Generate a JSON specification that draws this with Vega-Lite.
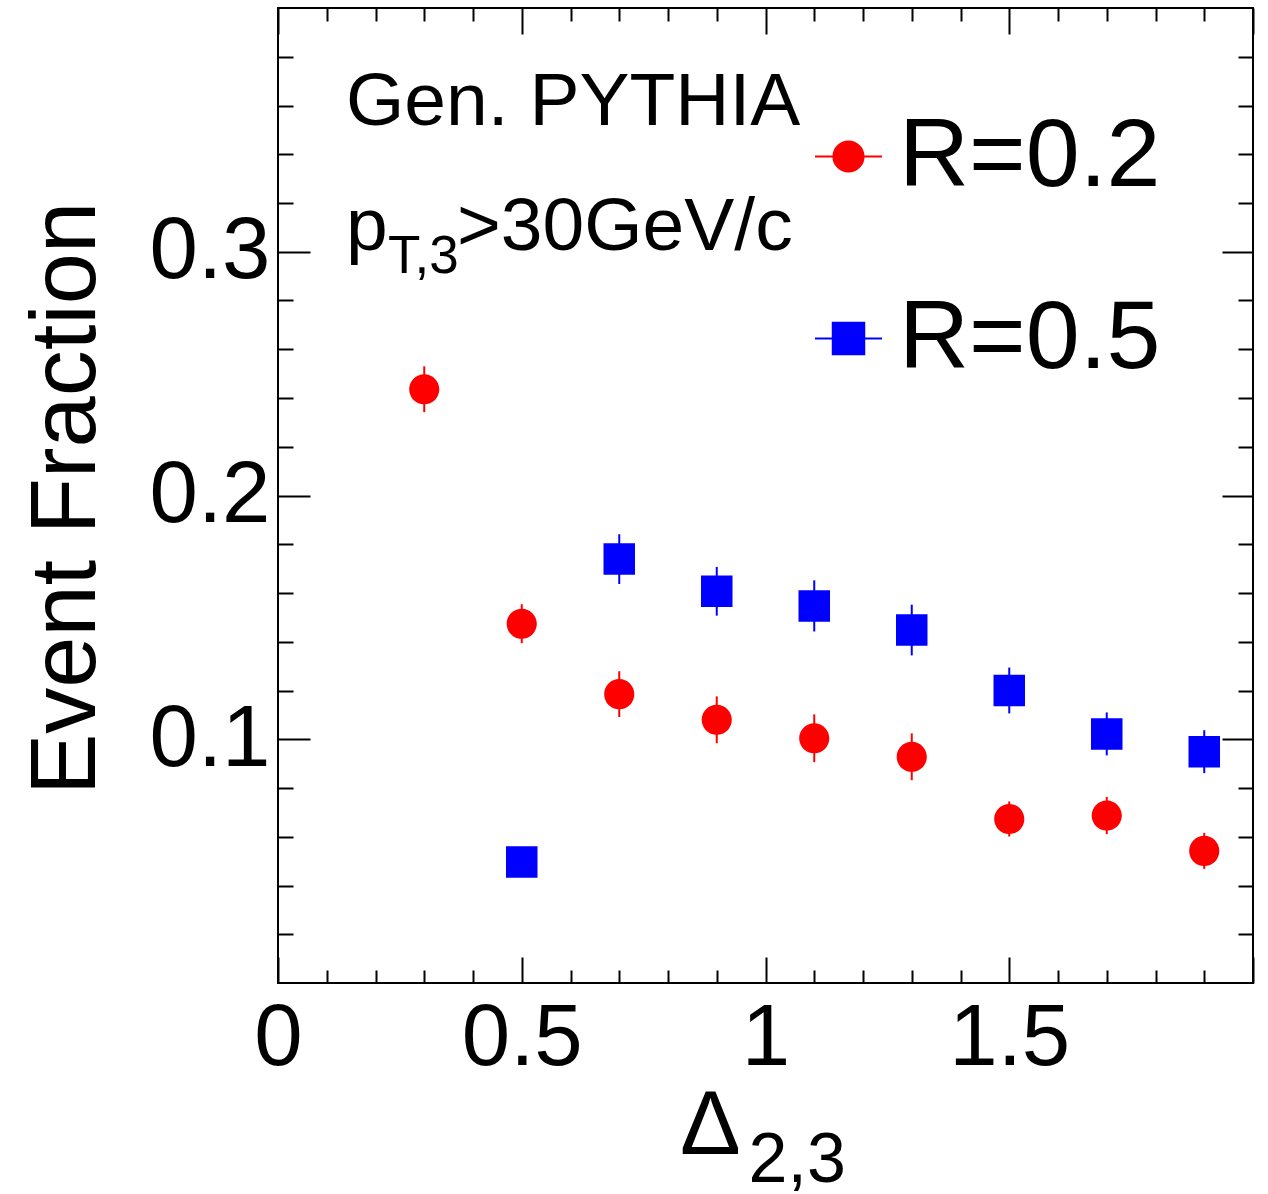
{
  "$schema": "https://vega.github.io/schema/vega-lite/v6.json",
  "width": 975,
  "height": 975,
  "autosize": {"type": "none"},
  "padding": {"left": 278, "top": 8, "right": 15, "bottom": 211},
  "background": "white",
  "config": {
    "view": {"stroke": "black", "strokeWidth": 2},
    "font": "Liberation Sans",
    "axis": {
      "grid": false, "domain": false, "tickColor": "black", "tickWidth": 2,
      "labelFont": "Liberation Sans", "titleFont": "Liberation Sans",
      "labelColor": "black", "titleColor": "black", "titleFontWeight": "normal",
      "labelFlush": false, "labelOverlap": false
    }
  },
  "data": {
    "values": [
      {"series": "R=0.2", "x": 0.3, "y": 0.2436, "lo": 0.2342, "hi": 0.2530},
      {"series": "R=0.2", "x": 0.5, "y": 0.1474, "lo": 0.1394, "hi": 0.1554},
      {"series": "R=0.2", "x": 0.7, "y": 0.1185, "lo": 0.1091, "hi": 0.1279},
      {"series": "R=0.2", "x": 0.9, "y": 0.1080, "lo": 0.0984, "hi": 0.1176},
      {"series": "R=0.2", "x": 1.1, "y": 0.1004, "lo": 0.0906, "hi": 0.1102},
      {"series": "R=0.2", "x": 1.3, "y": 0.0928, "lo": 0.0832, "hi": 0.1024},
      {"series": "R=0.2", "x": 1.5, "y": 0.0673, "lo": 0.0601, "hi": 0.0745},
      {"series": "R=0.2", "x": 1.7, "y": 0.0687, "lo": 0.0611, "hi": 0.0763},
      {"series": "R=0.2", "x": 1.9, "y": 0.0542, "lo": 0.0468, "hi": 0.0616},
      {"series": "R=0.5", "x": 0.5, "y": 0.0496, "lo": 0.0446, "hi": 0.0546},
      {"series": "R=0.5", "x": 0.7, "y": 0.1739, "lo": 0.1637, "hi": 0.1841},
      {"series": "R=0.5", "x": 0.9, "y": 0.1607, "lo": 0.1507, "hi": 0.1707},
      {"series": "R=0.5", "x": 1.1, "y": 0.1547, "lo": 0.1442, "hi": 0.1652},
      {"series": "R=0.5", "x": 1.3, "y": 0.1448, "lo": 0.1344, "hi": 0.1552},
      {"series": "R=0.5", "x": 1.5, "y": 0.1200, "lo": 0.1106, "hi": 0.1294},
      {"series": "R=0.5", "x": 1.7, "y": 0.1022, "lo": 0.0934, "hi": 0.1110},
      {"series": "R=0.5", "x": 1.9, "y": 0.0949, "lo": 0.0861, "hi": 0.1037}
    ]
  },
  "layer": [
    {
      "mark": {"type": "point", "filled": true, "opacity": 1, "size": 4489, "strokeWidth": 0},
      "encoding": {
        "x": {
          "field": "x", "type": "quantitative",
          "scale": {"domain": [0, 2], "nice": false, "zero": false},
          "axis": {
            "orient": "bottom", "values": [0, 0.5, 1, 1.5, 2], "tickSize": -26,
            "labelFontSize": 87, "labelPadding": 38, "format": "~g",
            "labelExpr": "datum.value == 2 ? '' : datum.label",
            "title": "Δ", "titleFontSize": 91, "titleX": 432, "titleY": 170,
            "titleAlign": "center", "titleBaseline": "alphabetic", "titleAnchor": null
          }
        },
        "y": {
          "field": "y", "type": "quantitative",
          "scale": {"domain": [0, 0.4], "nice": false, "zero": false},
          "axis": {
            "orient": "left", "values": [0.1, 0.2, 0.3], "tickSize": -32,
            "labelFontSize": 87, "labelPadding": 40, "format": "~g",
            "title": "Event Fraction", "titleFontSize": 92, "titleX": -184, "titleY": 490,
            "titleAngle": -90, "titleAlign": "center", "titleBaseline": "alphabetic"
          }
        },
        "color": {
          "field": "series", "type": "nominal",
          "scale": {"domain": ["R=0.2", "R=0.5"], "range": ["#ff0000", "#0000ff"]},
          "legend": {
            "title": null, "orient": "none", "legendX": 522, "legendY": 100,
            "symbolSize": 4489, "labelFontSize": 97, "labelFont": "Liberation Sans",
            "labelColor": "black", "labelLimit": 0, "labelOffset": 2, "rowPadding": 84,
            "padding": 0, "symbolStrokeWidth": 2
          }
        },
        "stroke": {
          "field": "series", "type": "nominal",
          "scale": {"domain": ["R=0.2", "R=0.5"], "range": ["#ff0000", "#0000ff"]},
          "legend": {
            "title": null, "orient": "none", "legendX": 522, "legendY": 100,
            "symbolSize": 4489, "labelFontSize": 97, "labelFont": "Liberation Sans",
            "labelColor": "black", "labelLimit": 0, "labelOffset": 2, "rowPadding": 84,
            "padding": 0, "symbolStrokeWidth": 2
          }
        },
        "shape": {
          "field": "series", "type": "nominal",
          "scale": {"domain": ["R=0.2", "R=0.5"], "range": ["M-1,0L1,0M0.45,0A0.45,0.45,0,1,1,-0.45,0A0.45,0.45,0,1,1,0.45,0Z", "M-1,0L1,0M-0.47,-0.47L0.47,-0.47L0.47,0.47L-0.47,0.47Z"]},
          "legend": {
            "title": null, "orient": "none", "legendX": 522, "legendY": 100,
            "symbolSize": 4489, "labelFontSize": 97, "labelFont": "Liberation Sans",
            "labelColor": "black", "labelLimit": 0, "labelOffset": 2, "rowPadding": 84,
            "padding": 0, "symbolStrokeWidth": 2
          }
        }
      }
    },
    {
      "mark": {"type": "rule", "strokeWidth": 2},
      "encoding": {
        "x": {
          "field": "x", "type": "quantitative",
          "scale": {"domain": [0, 2], "nice": false, "zero": false},
          "axis": {
            "orient": "bottom", "values": [0.1, 0.2, 0.3, 0.4, 0.6, 0.7, 0.8, 0.9, 1.1, 1.2, 1.3, 1.4, 1.6, 1.7, 1.8, 1.9],
            "tickSize": -13, "labels": false,
            "title": "2,3", "titleFontSize": 70, "titleX": 470, "titleY": 198,
            "titleAlign": "left", "titleBaseline": "alphabetic"
          }
        },
        "y": {
          "field": "lo", "type": "quantitative",
          "scale": {"domain": [0, 0.4], "nice": false, "zero": false},
          "axis": {
            "orient": "left", "values": [0.02, 0.04, 0.06, 0.08, 0.12, 0.14, 0.16, 0.18, 0.22, 0.24, 0.26, 0.28, 0.32, 0.34, 0.36, 0.38],
            "tickSize": -15, "labels": false, "title": null
          }
        },
        "y2": {"field": "hi"},
        "color": {"field": "series", "type": "nominal"}
      }
    },
    {
      "data": {"values": [{}]},
      "mark": {"type": "text", "text": "Gen. PYTHIA", "fontSize": 75, "align": "left", "baseline": "alphabetic", "font": "Liberation Sans", "color": "black"},
      "encoding": {
        "x": {
          "datum": 0.1395, "type": "quantitative",
          "scale": {"domain": [0, 2], "nice": false, "zero": false},
          "axis": {"orient": "top", "values": [0, 0.5, 1, 1.5, 2], "tickSize": -26, "labels": false, "title": null}
        },
        "y": {
          "datum": 0.352, "type": "quantitative",
          "scale": {"domain": [0, 0.4], "nice": false, "zero": false},
          "axis": {"orient": "right", "values": [0.1, 0.2, 0.3], "tickSize": -31, "labels": false, "title": null}
        }
      }
    },
    {
      "data": {"values": [{}]},
      "mark": {"type": "text", "text": "p", "fontSize": 75, "align": "left", "baseline": "alphabetic", "font": "Liberation Sans", "color": "black"},
      "encoding": {
        "x": {
          "datum": 0.1395, "type": "quantitative",
          "scale": {"domain": [0, 2], "nice": false, "zero": false},
          "axis": {"orient": "top", "values": [0.1, 0.2, 0.3, 0.4, 0.6, 0.7, 0.8, 0.9, 1.1, 1.2, 1.3, 1.4, 1.6, 1.7, 1.8, 1.9], "tickSize": -13, "labels": false, "title": null}
        },
        "y": {
          "datum": 0.3007, "type": "quantitative",
          "scale": {"domain": [0, 0.4], "nice": false, "zero": false},
          "axis": {"orient": "right", "values": [0.02, 0.04, 0.06, 0.08, 0.12, 0.14, 0.16, 0.18, 0.22, 0.24, 0.26, 0.28, 0.32, 0.34, 0.36, 0.38], "tickSize": -15, "labels": false, "title": null}
        }
      }
    },
    {
      "data": {"values": [{}]},
      "mark": {"type": "text", "text": "T,3", "fontSize": 53, "align": "left", "baseline": "alphabetic", "font": "Liberation Sans", "color": "black"},
      "encoding": {
        "x": {"datum": 0.2256, "type": "quantitative", "axis": null},
        "y": {"datum": 0.2913, "type": "quantitative", "axis": null}
      }
    },
    {
      "data": {"values": [{}]},
      "mark": {"type": "text", "text": ">30GeV/c", "fontSize": 75, "align": "left", "baseline": "alphabetic", "font": "Liberation Sans", "color": "black"},
      "encoding": {
        "x": {"datum": 0.3672, "type": "quantitative", "axis": null},
        "y": {"datum": 0.3007, "type": "quantitative", "axis": null}
      }
    }
  ],
  "resolve": {"axis": {"x": "independent", "y": "independent"}}
}
